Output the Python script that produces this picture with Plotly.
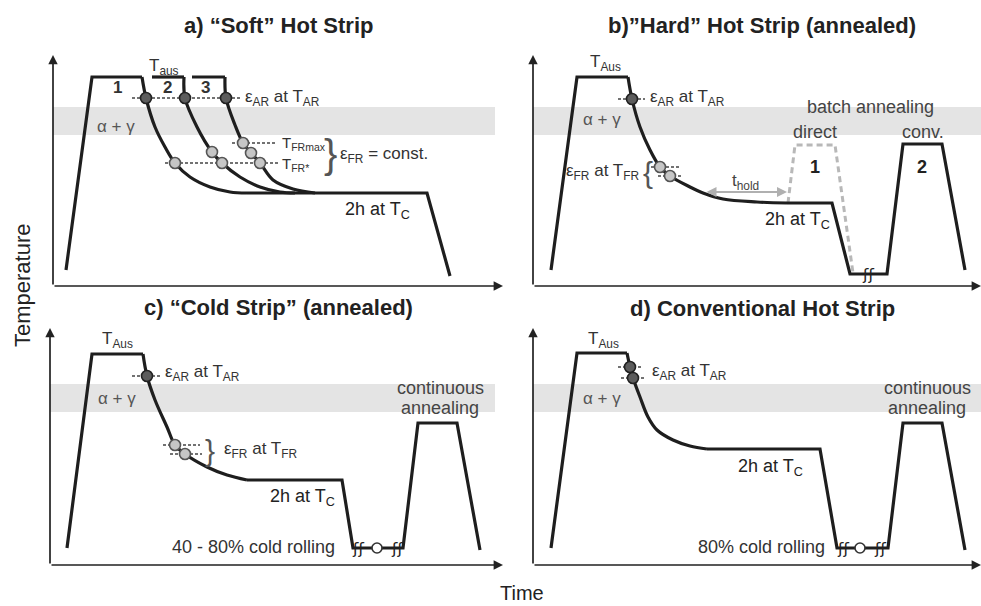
import plotly.graph_objects as go

W, H = 981, 606
FONT = "Liberation Sans, Arial, sans-serif"
INK = "#1e1e1e"
TXT = "#333333"

# ---------------- data (schematic time / temperature units) ----------------
# Panel a) "Soft" hot strip
a_heat_t = [13, 39, 89]
a_heat_T = [16, 209, 209]
a_cool1_t = [89, 93, 102, 112, 122, 137, 157, 177, 194]
a_cool1_T = [209, 188, 159, 139, 123, 109, 99, 94, 93]
a_plat2_t = [99, 131]
a_plat2_T = [209, 209]
a_cool2_t = [131, 132, 144, 159, 169, 187, 207, 227, 242]
a_cool2_T = [209, 188, 159, 134, 123, 109, 99, 94, 93]
a_plat3_t = [139, 172]
a_plat3_T = [209, 209]
a_cool3_t = [172, 173, 182, 190, 198, 207, 220, 240, 262]
a_cool3_T = [209, 188, 161, 143, 133, 123, 106, 97, 93]
a_hold_t = [194, 374, 397]
a_hold_T = [93, 93, 10]
a_ar_t = [93, 132, 173]
a_ar_T = [188, 188, 188]
a_fr_t = [122, 159, 169, 190, 198, 207]
a_fr_T = [123, 134, 123, 143, 133, 123]
a_band_T = [151, 179]

# Panel b) "Hard" hot strip (annealed)
b_heat_t = [18, 44, 95]
b_heat_T = [16, 209, 209]
b_cool_t = [95, 99, 107, 117, 127, 137, 157, 170, 190, 224, 254]
b_cool_T = [209, 187, 159, 136, 119, 110, 99, 93, 87, 84, 83]
b_rest_t = [254, 299, 317, 354, 370, 409, 432]
b_rest_T = [83, 83, 12, 12, 142, 142, 16]
b_direct_t = [255, 262, 302, 320]
b_direct_T = [83, 141, 141, 13]
b_ar_t = [99]
b_ar_T = [187]
b_fr_t = [127, 137]
b_fr_T = [119, 110]
b_hold_t = [172, 254]
b_hold_T = [94, 94]
b_band_T = [151, 179]

# Panel c) "Cold strip" (annealed)
c_heat_t = [17, 42, 93]
c_heat_T = [17, 211, 211]
c_cool_t = [93, 97, 105, 117, 125, 135, 157, 177, 197]
c_cool_T = [211, 189, 165, 138, 120, 111, 98, 90, 85]
c_rest_t = [197, 292, 303, 353, 368, 407, 430]
c_rest_T = [85, 85, 17, 17, 142, 142, 15]
c_ar_t = [97]
c_ar_T = [189]
c_fr_t = [125, 135]
c_fr_T = [120, 111]
c_roll_t = [327]
c_roll_T = [17]
c_break_t = [308, 347]
c_band_T = [153, 181]

# Panel d) Conventional hot strip
d_heat_t = [18, 44, 94]
d_heat_T = [17, 212, 212]
d_cool_t = [94, 97, 100, 107, 115, 124, 140, 157, 174]
d_cool_T = [212, 198, 187, 168, 148, 135, 125, 119, 116]
d_rest_t = [174, 287, 304, 355, 370, 409, 432]
d_rest_T = [116, 116, 17, 17, 142, 142, 15]
d_ar_t = [97, 100]
d_ar_T = [198, 187]
d_roll_t = [327]
d_roll_T = [17]
d_break_t = [310, 347]
d_band_T = [153, 181]

# ---------------- layout of the four panels (pixel boxes) ----------------
# name: (axis suffix, left px, right px, bottom px, top px)
panels = {
    "a": ("", 53, 503, 286, 55),
    "b": ("2", 533, 981, 286, 55),
    "c": ("3", 50, 503, 565, 328),
    "d": ("4", 533, 981, 565, 328),
}

fig = go.Figure()
annotations = []
shapes = []


def axes(p):
    s = panels[p][0]
    return "x" + s, "y" + s


def line(p, t, T, spline=False, color=INK, width=3.2, dash=None):
    xa, ya = axes(p)
    fig.add_trace(go.Scatter(
        x=t, y=T, xaxis=xa, yaxis=ya, mode="lines",
        line=dict(color=color, width=width, dash=dash,
                  shape="spline" if spline else "linear", smoothing=1.0),
        showlegend=False, hoverinfo="skip", cliponaxis=False))


def dots(p, t, T, fill, edge, size=11):
    xa, ya = axes(p)
    fig.add_trace(go.Scatter(
        x=t, y=T, xaxis=xa, yaxis=ya, mode="markers",
        marker=dict(size=size, color=fill, line=dict(color=edge, width=1.6)),
        showlegend=False, hoverinfo="skip", cliponaxis=False))


def text(p, t, T, s, size=17, color=TXT, xanchor="center", bold=False, family=FONT):
    xa, ya = axes(p)
    annotations.append(dict(
        x=t, y=T, xref=xa, yref=ya, text=("<b>%s</b>" % s) if bold else s,
        showarrow=False, xanchor=xanchor, yanchor="middle",
        font=dict(size=size, color=color, family=family)))


def band(p, T, t1):
    xa, ya = axes(p)
    shapes.append(dict(type="rect", xref=xa, yref=ya, x0=0, x1=t1, y0=T[0], y1=T[1],
                       fillcolor="#e4e4e4", line=dict(width=0), layer="below"))


def dash_line(p, t, T, color="#444", width=1.4):
    line(p, t, T, color=color, width=width, dash="3px,2px")


# axes domains and axis arrows
layout_axes = {}
for p, (s, l, r, b, tp) in panels.items():
    xr, yr = r - l, b - tp
    layout_axes["xaxis" + s] = dict(domain=[l / W, r / W], range=[0, xr], visible=False,
                                    anchor="y" + s, fixedrange=True)
    layout_axes["yaxis" + s] = dict(domain=[1 - b / H, 1 - tp / H], range=[0, yr],
                                    visible=False, anchor="x" + s, fixedrange=True)
    xa, ya = "x" + s, "y" + s
    for (x, y) in [(0, yr), (xr, 0)]:
        annotations.append(dict(x=x, y=y, ax=0, ay=0, xref=xa, yref=ya, axref=xa, ayref=ya,
                                text="", showarrow=True, arrowhead=2, arrowsize=1.1,
                                arrowwidth=1.7, arrowcolor="#222"))

# ---- panel a ----
band("a", a_band_T, 442)
dash_line("a", [79, 187], [188, 188])
dash_line("a", [112, 227], [123, 123])
dash_line("a", [179, 224], [143, 143])
line("a", a_heat_t, a_heat_T)
line("a", a_cool1_t, a_cool1_T, spline=True)
line("a", a_plat2_t, a_plat2_T)
line("a", a_cool2_t, a_cool2_T, spline=True)
line("a", a_plat3_t, a_plat3_T)
line("a", a_cool3_t, a_cool3_T, spline=True)
line("a", a_hold_t, a_hold_T)
dots("a", a_ar_t, a_ar_T, "#5c5c5c", "#222")
dots("a", a_fr_t, a_fr_T, "#c6c6c6", "#555")
text("a", 64, 199, "1", bold=True)
text("a", 114, 199, "2", bold=True)
text("a", 152, 199, "3", bold=True)
text("a", 111, 219, "T<sub>aus</sub>")
text("a", 190, 188, "ε<sub>AR</sub> at T<sub>AR</sub>", xanchor="left")
text("a", 63, 160, "α + γ", color="#555")
text("a", 227, 143, "T<sub>FRmax</sub>", size=15, xanchor="left")
text("a", 227, 122, "T<sub>FR*</sub>", size=15, xanchor="left")
text("a", 277, 132, "}", size=40, color="#555")
text("a", 285, 131, "ε<sub>FR</sub> = const.", xanchor="left")
text("a", 324, 76, "2h at T<sub>C</sub>", size=18, color="#222")

# ---- panel b ----
band("b", b_band_T, 448)
dash_line("b", [85, 112], [187, 187])
dash_line("b", [118, 148], [119, 119])
dash_line("b", [125, 150], [110, 110])
line("b", b_direct_t, b_direct_T, color="#b8b8b8", width=3, dash="6px,4px")
line("b", b_heat_t, b_heat_T)
line("b", b_cool_t, b_cool_T, spline=True)
line("b", b_rest_t, b_rest_T)
dots("b", b_ar_t, b_ar_T, "#5c5c5c", "#222")
dots("b", b_fr_t, b_fr_T, "#c6c6c6", "#555")
annotations.append(dict(x=b_hold_t[1], y=b_hold_T[1], ax=b_hold_t[0], ay=b_hold_T[0],
                        xref="x2", yref="y2", axref="x2", ayref="y2", text="",
                        showarrow=True, arrowhead=2, arrowside="end+start", arrowsize=1,
                        arrowwidth=2, arrowcolor="#b0b0b0"))
text("b", 72, 223, "T<sub>Aus</sub>")
text("b", 115, 188, "ε<sub>AR</sub> at T<sub>AR</sub>", xanchor="left")
text("b", 69, 167, "α + γ", color="#555")
text("b", 108, 114, "ε<sub>FR</sub> at T<sub>FR</sub>", xanchor="right")
text("b", 115, 114, "{", size=30, color="#555")
text("b", 212, 104, "t<sub>hold</sub>", color="#444")
text("b", 337, 179, "batch annealing", size=18, color="#444")
text("b", 282, 154, "direct", size=18, color="#444")
text("b", 390, 154, "conv.", size=18, color="#444")
text("b", 282, 119, "1", size=18, bold=True, color="#222")
text("b", 389, 119, "2", size=18, bold=True, color="#222")
text("b", 264, 66, "2h at T<sub>C</sub>", size=18, color="#222")
text("b", 335, 12, "ʃʃ", size=16, color="#222", family="DejaVu Sans")

# ---- panel c ----
band("c", c_band_T, 445)
dash_line("c", [82, 112], [189, 189])
dash_line("c", [113, 150], [120, 120])
dash_line("c", [120, 152], [111, 111])
line("c", c_heat_t, c_heat_T)
line("c", c_cool_t, c_cool_T, spline=True)
line("c", c_rest_t, c_rest_T)
dots("c", c_ar_t, c_ar_T, "#5c5c5c", "#222")
dots("c", c_fr_t, c_fr_T, "#c6c6c6", "#555")
dots("c", c_roll_t, c_roll_T, "white", "#333", size=10)
for bt in c_break_t:
    text("c", bt, 17, "ʃʃ", size=16, color="#222", family="DejaVu Sans")
text("c", 67, 225, "T<sub>Aus</sub>")
text("c", 113, 192, "ε<sub>AR</sub> at T<sub>AR</sub>", xanchor="left")
text("c", 67, 167, "α + γ", color="#555")
text("c", 160, 115, "}", size=30, color="#555")
text("c", 172, 115, "ε<sub>FR</sub> at T<sub>FR</sub>", xanchor="left")
text("c", 252, 68, "2h at T<sub>C</sub>", size=18, color="#222")
text("c", 287, 18, "40 - 80% cold rolling", size=18, color="#333", xanchor="right")
text("c", 390, 177, "continuous", size=18, color="#444")
text("c", 390, 157, "annealing", size=18, color="#444")

# ---- panel d ----
band("d", d_band_T, 448)
dash_line("d", [85, 110], [198, 198])
dash_line("d", [88, 113], [187, 187])
line("d", d_heat_t, d_heat_T)
line("d", d_cool_t, d_cool_T, spline=True)
line("d", d_rest_t, d_rest_T)
dots("d", d_ar_t, d_ar_T, "#5c5c5c", "#222")
dots("d", d_roll_t, d_roll_T, "white", "#333", size=10)
for bt in d_break_t:
    text("d", bt, 17, "ʃʃ", size=16, color="#222", family="DejaVu Sans")
text("d", 70, 225, "T<sub>Aus</sub>")
text("d", 117, 193, "ε<sub>AR</sub> at T<sub>AR</sub>", xanchor="left")
text("d", 69, 167, "α + γ", color="#555")
text("d", 237, 98, "2h at T<sub>C</sub>", size=18, color="#222")
text("d", 294, 18, "80% cold rolling", size=18, color="#333", xanchor="right")
text("d", 394, 177, "continuous", size=18, color="#444")
text("d", 394, 157, "annealing", size=18, color="#444")

# ---- titles & axis labels (paper coordinates) ----
titles = [("a) “Soft” Hot Strip", 278, 25), ("b)”Hard” Hot Strip (annealed)", 762, 25),
          ("c) “Cold Strip” (annealed)", 278, 307), ("d) Conventional Hot Strip", 762, 308)]
for s, px, py in titles:
    annotations.append(dict(x=px / W, y=1 - py / H, xref="paper", yref="paper",
                            xanchor="center", yanchor="middle",
                            text="<b>%s</b>" % s, showarrow=False,
                            font=dict(size=22, color="#222", family=FONT)))
annotations.append(dict(x=22 / W, y=1 - 285 / H, xref="paper", yref="paper", text="Temperature",
                        xanchor="center", yanchor="middle", textangle=-90, showarrow=False,
                        font=dict(size=22, color="#222", family=FONT)))
annotations.append(dict(x=522 / W, y=1 - 593 / H, xref="paper", yref="paper", text="Time",
                        xanchor="center", yanchor="middle", showarrow=False,
                        font=dict(size=20, color="#222", family=FONT)))

fig.update_layout(width=W, height=H, margin=dict(l=0, r=0, t=0, b=0),
                  paper_bgcolor="white", plot_bgcolor="rgba(0,0,0,0)",
                  annotations=annotations, shapes=shapes, showlegend=False,
                  **layout_axes)
fig.write_html("out.html", config={"displayModeBar": False})
